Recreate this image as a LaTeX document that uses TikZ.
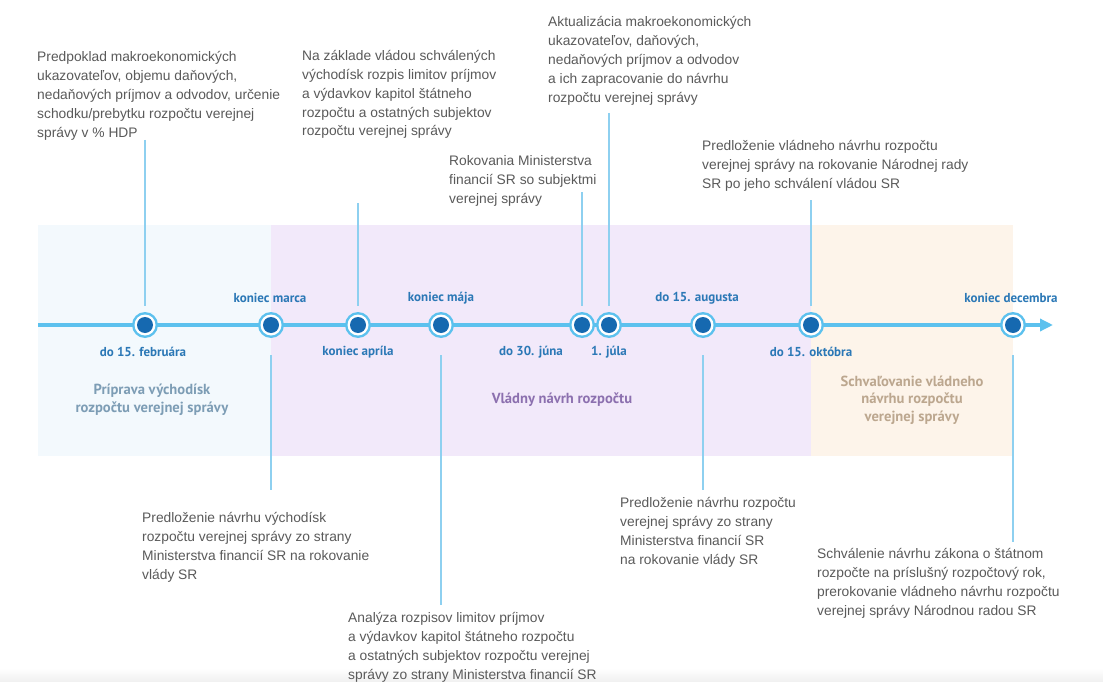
\documentclass[tikz,border=0pt]{standalone}
\usepackage{fontspec}
\setmainfont{Liberation Sans}
\newfontfamily\labfont{PT Sans}
\usetikzlibrary{arrows.meta}
\definecolor{txtgray}{HTML}{5A5A5A}
\definecolor{lineblue}{HTML}{5CC1EE}
\definecolor{connblue}{HTML}{8ED0F0}
\definecolor{dotblue}{HTML}{1669B0}
\definecolor{labblue}{HTML}{2B78B6}
\definecolor{bandA}{HTML}{F3F9FD}
\definecolor{bandB}{HTML}{F2E9FA}
\definecolor{bandC}{HTML}{FDF4EA}
\definecolor{phA}{HTML}{7D9DB5}
\definecolor{phB}{HTML}{8C70AF}
\definecolor{phC}{HTML}{BCA78F}
\tikzset{
  desc/.style={anchor=base west, inner sep=0pt, align=left, text=txtgray,
    font=\fontsize{13.8}{19}\selectfont},
  datelab/.style={inner sep=0pt, text=labblue, font=\labfont\bfseries\fontsize{13}{15}\selectfont},
  phase/.style={inner sep=0pt, align=center, font=\labfont\bfseries\fontsize{14.6}{17.5}\selectfont},
  conn/.style={draw=connblue, line width=1.2pt},
  marker/.style={circle, inner sep=0pt, minimum size=26pt, fill=lineblue,
    path picture={\fill[white] (path picture bounding box.center) circle (10.5pt);
      \fill[dotblue] (path picture bounding box.center) circle (8pt);}},
}
\begin{document}
\begin{tikzpicture}[x=1pt,y=-1pt]
\useasboundingbox (0,0) rectangle (1103,682);
\fill[white] (0,0) rectangle (1103,682);
\shade[top color=white, bottom color=black!6] (0,668) rectangle (1103,682);
% bands
\fill[bandA] (38,225) rectangle (271,456);
\fill[bandB] (271,225) rectangle (811,456);
\fill[bandC] (811,225) rectangle (1013,456);
% phase labels
\node[phase, text=phA] (pA) at (152,400) {Príprava východísk\\rozpočtu verejnej správy};
\node[phase, text=phB] (pB) at (562,400) {Vládny návrh rozpočtu};
\node[phase, text=phC] (pC) at (912,400) {Schvaľovanie vládneho\\návrhu rozpočtu\\verejnej správy};
% timeline
\coordinate (t0) at (38,325);
\coordinate (t1) at (1053,325);
\draw[draw=lineblue, line width=4pt, -{Triangle[length=13pt,width=12pt]}] (t0) -- (t1);
% markers
\node[marker] (m1) at (145,325) {};
\node[marker] (m2) at (271,325) {};
\node[marker] (m3) at (358,325) {};
\node[marker] (m4) at (441,325) {};
\node[marker] (m5) at (582,325) {};
\node[marker] (m6) at (609,325) {};
\node[marker] (m7) at (703,325) {};
\node[marker] (m8) at (811,325) {};
\node[marker] (m9) at (1013,325) {};
% date labels
\node[datelab] (d1) at (143,352) {do 15. februára};
\node[datelab] (d2) at (270,298) {koniec marca};
\node[datelab] (d3) at (358,352) {koniec apríla};
\node[datelab] (d4) at (441,298) {koniec mája};
\node[datelab] (d5) at (531,352) {do 30. júna};
\node[datelab] (d6) at (609,352) {1. júla};
\node[datelab] (d7) at (697,298) {do 15. augusta};
\node[datelab] (d8) at (811,352) {do 15. októbra};
\node[datelab] (d9) at (1011,298) {koniec decembra};
% descriptions (anchored at the baseline of their last line)
\node[desc] (T1) at (37,138) {Predpoklad makroekonomických\\ukazovateľov, objemu daňových,\\nedaňových príjmov a odvodov, určenie\\schodku/prebytku rozpočtu verejnej\\správy v \% HDP};
\node[desc] (T2) at (302,136) {Na základe vládou schválených\\východísk rozpis limitov príjmov\\a výdavkov kapitol štátneho\\rozpočtu a ostatných subjektov\\rozpočtu verejnej správy};
\node[desc] (T3) at (449,203) {Rokovania Ministerstva\\financií SR so subjektmi\\verejnej správy};
\node[desc] (T4) at (548,103) {Aktualizácia makroekonomických\\ukazovateľov, daňových,\\nedaňových príjmov a odvodov\\a ich zapracovanie do návrhu\\rozpočtu verejnej správy};
\node[desc] (T5) at (702,188) {Predloženie vládneho návrhu rozpočtu\\verejnej správy na rokovanie Národnej rady\\SR po jeho schválení vládou SR};
\node[desc] (B1) at (142,579) {Predloženie návrhu východísk\\rozpočtu verejnej správy zo strany\\Ministerstva financií SR na rokovanie\\vlády SR};
\node[desc] (B2) at (348,679) {Analýza rozpisov limitov príjmov\\a výdavkov kapitol štátneho rozpočtu\\a ostatných subjektov rozpočtu verejnej\\správy zo strany Ministerstva financií SR};
\node[desc] (B3) at (620,564) {Predloženie návrhu rozpočtu\\verejnej správy zo strany\\Ministerstva financií SR\\na rokovanie vlády SR};
\node[desc] (B4) at (817,615) {Schválenie návrhu zákona o štátnom\\rozpočte na príslušný rozpočtový rok,\\prerokovanie vládneho návrhu rozpočtu\\verejnej správy Národnou radou SR};
% connector free ends
\coordinate (c1) at (145,140);
\coordinate (c3) at (358,203);
\coordinate (c5) at (582,192);
\coordinate (c6) at (609,113);
\coordinate (c8) at (811,200);
\coordinate (c2) at (271,490);
\coordinate (c4) at (441,605);
\coordinate (c7) at (703,490);
\coordinate (c9) at (1013,542);
% connectors
\draw[conn] (c1) -- ([yshift=6pt]m1.north);
\draw[conn] (c3) -- ([yshift=6pt]m3.north);
\draw[conn] (c5) -- ([yshift=6pt]m5.north);
\draw[conn] (c6) -- ([yshift=6pt]m6.north);
\draw[conn] (c8) -- ([yshift=6pt]m8.north);
\draw[conn] ([yshift=-17pt]m2.south) -- (c2);
\draw[conn] ([yshift=-17pt]m4.south) -- (c4);
\draw[conn] ([yshift=-17pt]m7.south) -- (c7);
\draw[conn] ([yshift=-17pt]m9.south) -- (c9);
\end{tikzpicture}
\end{document}
